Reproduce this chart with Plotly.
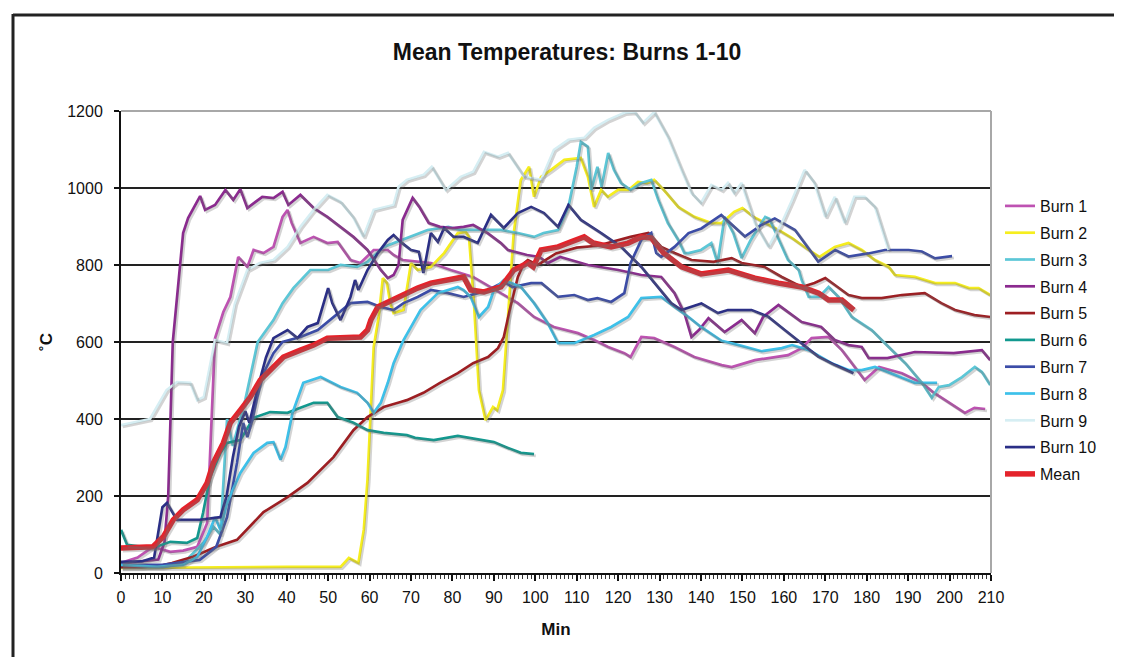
import plotly.graph_objects as go

# ---------------- data ----------------
burn1_x = [0, 4, 7.7, 10, 11.9, 15, 18.4, 20.8, 22.7, 24.7, 26.4, 28.3, 30.5, 32, 34.4, 36.8, 39, 40.2, 41.2, 43.3,
           46.5, 49.8, 52.3, 55.4, 57.8, 61, 64.4, 65.8, 68, 74.8, 79.6, 85, 87.6, 91.7, 95.8, 99.7, 104.5, 110.3,
           114.2, 117.6, 121.5, 123, 125.6, 128.7, 133.6, 138.4, 145, 147.4, 153, 161, 164.3, 166.7, 170.8, 174,
           177, 179.5, 183, 188.5, 193.3, 196, 203.7, 206, 208.6]
burn1_y = [26, 40, 68, 60, 55, 58, 68, 130, 610, 678, 717, 821, 795, 839, 831, 847, 925, 943, 909, 857,
           873, 857, 860, 813, 805, 839, 839, 826, 813, 805, 787, 769, 753, 727, 701, 665, 639, 623,
           605, 587, 571, 561, 613, 610, 587, 561, 540, 535, 553, 566, 584, 610, 613, 579,
           535, 501, 535, 519, 494, 470, 416, 429, 426]

burn2_x = [0, 10, 20, 30, 40, 53, 55, 57.3, 58.6, 59.5, 60.3, 61, 62.2, 63.2, 64.2, 65, 65.8, 68.2, 70, 71.6,
           74.8, 78, 81.3, 83.2, 84, 85.2, 86.4, 88, 89.8, 90.8, 92.2, 93.4, 94.8, 96.5, 98.5, 99.7, 101.4,
           103.8, 107, 111, 112.7, 114.2, 115.9, 117.5, 120, 122.5, 124.8, 127, 128.7, 131, 134.5, 138.4,
           142.5, 145, 148, 150, 152.7, 158.7, 162, 166, 168.6, 172.3, 175.6, 178.8, 182, 185.3, 186.8,
           191.6, 196.5, 201.3, 204.7, 207, 209.8]
burn2_y = [13, 14, 15, 16, 16, 16, 39, 26, 112, 242, 416, 587, 665, 766, 753, 701, 675, 683, 805, 787,
           795, 831, 883, 886, 873, 701, 475, 397, 431, 423, 475, 665, 883, 1021, 1055, 977, 1029,
           1047, 1073, 1078, 1029, 951, 995, 977, 995, 995, 1016, 1013, 1021, 995, 951, 925,
           909, 909, 938, 948, 925, 891, 870, 839, 821, 847, 857, 839, 813, 795, 774,
           769, 753, 753, 740, 740, 722]

burn3_x = [0, 10, 15, 20, 22.3, 24, 25.6, 27, 30, 33, 36.8, 39, 41.6, 45.7, 50, 53, 57, 59.5, 63.4, 65.8,
           70, 74, 79, 82, 86, 91.7, 95.8, 99.7, 102, 105.5, 108, 110, 111, 112.7, 113.5, 115, 116,
           117.6, 119, 120.7, 123, 125.6, 128, 129.7, 132, 134.5, 136, 137, 140, 142.5, 144, 145.7,
           147.8, 149.8, 152, 155.5, 156.5, 161, 163.6, 164.3, 166, 168.5, 170.8, 173.2, 176.4, 181.2,
           185.3, 189.3, 193.3, 195.7, 197.4, 199.9, 203, 206.1, 207.8, 209.8]
burn3_y = [15, 15, 25, 80, 120, 100, 400, 330, 450, 600, 657, 701, 740, 787, 787, 800, 795, 808, 847, 857,
           873, 891, 899, 891, 891, 891, 883, 873, 883, 891, 951, 1055, 1120, 1107, 995, 1055, 1003,
           1091, 1047, 1013, 995, 1013, 1021, 969, 909, 865, 831, 831, 839, 857, 805, 925,
           883, 818, 865, 925, 920, 813, 787, 761, 717, 717, 743, 717, 665, 631,
           587, 545, 494, 455, 483, 488, 509, 535, 522, 488]

burn4_x = [0, 5, 9, 10.5, 11.4, 12.5, 14.3, 15, 16.2, 19.1, 20.3, 22.7, 25.2, 27.1, 28.8, 30.5, 34.1, 36.8,
           39, 40.4, 43.3, 46.5, 49.8, 53, 56.1, 59.5, 62.7, 64.4, 65.8, 67, 68, 70.4, 72, 74.3, 77, 80,
           82.7, 85, 88.5, 91.7, 93.4, 98, 101, 103, 106, 112.7, 120, 125.6, 130.4, 133.6, 136, 137.7,
           139.5, 141.8, 145.7, 149.8, 153, 155, 158.7, 164.3, 169, 172.3, 175.6, 178.8, 180.5, 185,
           191.6, 201, 207.8, 209.8]
burn4_y = [25, 30, 35, 80, 200, 600, 805, 883, 922, 979, 943, 956, 995, 969, 997, 948, 977, 974,
           990, 956, 982, 948, 925, 899, 873, 839, 787, 766, 774, 800, 917, 974, 951, 909, 899, 896,
           899, 904, 883, 857, 839, 826, 821, 805, 821, 800, 787, 774, 769, 727, 675, 613,
           631, 662, 626, 657, 623, 665, 696, 652, 639, 605, 592, 587, 558, 558,
           574, 571, 579, 553]

burn5_x = [0, 5, 10, 12.3, 17.4, 23, 28, 34.4, 40.2, 45, 51.3, 56.1, 59.5, 63.4, 67.5, 69, 73, 77, 81.3, 85,
           88.6, 91, 92.4, 94, 95.8, 97.3, 98.2, 100.6, 105, 110, 115, 120, 123, 127.3, 130.4, 133.6,
           137.7, 143, 147.4, 149.8, 155.3, 159.5, 164.3, 167.4, 170, 172.3, 175.6, 178.8, 183.6,
           188.5, 194, 198, 201.3, 206, 209.8]
burn5_y = [15, 15, 20, 26, 42, 68, 86, 158, 197, 234, 301, 371, 405, 431, 444, 449, 468, 494, 519, 545,
           561, 584, 613, 691, 769, 805, 813, 800, 830, 845, 850, 865, 873, 883, 847, 831,
           813, 808, 818, 805, 795, 769, 743, 753, 766, 748, 722, 714, 714,
           722, 727, 701, 683, 670, 665]

burn6_x = [0, 1.5, 7.7, 11.9, 15.9, 18.4, 19.8, 21.5, 24, 25.6, 28.8, 32, 36, 40.2, 43.3, 46.5, 49.8, 52.3,
           56.1, 59.5, 63.4, 69, 71, 75.5, 81.3, 86, 90, 93.4, 96.5, 99.7]
burn6_y = [112, 73, 65, 81, 78, 91, 156, 249, 312, 338, 345, 403, 418, 416, 429, 442, 442, 405,
           390, 371, 364, 358, 351, 345, 356, 348, 340, 325, 312, 309]

burn7_x = [0, 10, 19, 23, 25.6, 28, 29.5, 30.5, 31.7, 32.9, 34.4, 36.8, 39, 43.3, 47.5, 51.3, 55.4, 59.5,
           62.7, 65.8, 68.2, 71.6, 74.8, 78.9, 82.7, 86.1, 88.6, 92.4, 94.5, 99, 101.5, 105.5, 109.4,
           112.7, 115, 118.3, 121.5, 123, 125.6, 128, 129.2, 130.4, 133.6, 137, 140.1, 144.9, 150.6,
           154.6, 157.8, 162.7, 168.3, 172.4, 175.6, 180.4, 184.4, 190.1, 193.3, 196.5, 200.6]
burn7_y = [21, 21, 34, 68, 145, 286, 390, 353, 397, 457, 519, 571, 600, 613, 631, 665, 701, 704,
           691, 683, 701, 717, 735, 727, 717, 727, 735, 756, 743, 753, 753, 717, 722,
           709, 714, 704, 727, 805, 865, 883, 831, 821, 847, 883, 895, 930, 874,
           904, 921, 891, 809, 839, 822, 830, 839, 839, 835, 817, 823]

burn8_x = [0, 8.7, 15, 18.4, 20.8, 22.7, 24, 25.6, 28.8, 32, 35.3, 36.8, 38.5, 39.7, 41.4, 44, 48.2, 53, 57,
           59.5, 61, 62.7, 64.4, 65.8, 68.2, 72.3, 76.5, 81.3, 82.7, 84.4, 86.4, 88.6, 90, 92.4, 96.5,
           99.7, 103, 105.5, 109.4, 114.2, 118.3, 122.4, 125.6, 130.4, 133.6, 137, 140, 145, 149.8,
           154.6, 159.5, 162, 166, 171.5, 175.6, 178.8, 182, 186.8, 191.6, 197]
burn8_y = [21, 16, 21, 42, 94, 145, 112, 182, 260, 312, 338, 340, 294, 327, 416, 494, 509, 483, 468,
           442, 416, 442, 494, 545, 605, 683, 727, 743, 735, 717, 665, 691, 735, 761, 743,
           701, 649, 597, 597, 618, 639, 665, 714, 717, 691, 665, 639, 603, 590,
           576, 584, 592, 579, 545, 527, 527, 535, 514, 494, 494]

burn9_x = [0, 7, 11, 13.5, 16.7, 18.4, 20, 22.7, 25.6, 27.5, 30.5, 33.5, 36.8, 40.2, 43.3, 46.5, 49.8, 53,
           56, 58.5, 61, 64.4, 65.8, 67, 69, 73, 75, 78.4, 82, 85, 87.6, 91, 93.4, 97.3, 101.4, 104.5,
           108, 111.8, 114.2, 117.6, 121.5, 124, 126, 128.7, 132, 135.3, 137.7, 140, 142.5, 145, 146.5,
           148, 149.8, 153, 156.3, 159.5, 162, 165, 167.4, 170, 172.3, 174.7, 177, 179.5, 182, 185.3]
burn9_y = [384, 400, 475, 496, 494, 449, 457, 605, 597, 700, 787, 805, 813, 847, 899, 943, 982, 964,
           925, 873, 943, 951, 956, 1003, 1021, 1034, 1055, 995, 1029, 1042, 1094, 1081, 1091, 1029, 1021, 1099,
           1125, 1130, 1156, 1177, 1195, 1197, 1169, 1197, 1133, 1047, 987, 961, 1008, 995, 1013,
           987, 1013, 909, 847, 909, 969, 1047, 1013, 925, 977, 909, 977, 977, 951, 839]

burn10_x = [0, 5, 8, 9.2, 10, 11.1, 13.5, 19, 24, 25.5, 27, 28.5, 30, 31, 33, 35, 36.8, 40.2, 42.6, 45,
            47.5, 50, 51, 53, 55.4, 56.5, 57.3, 59.5, 62, 64.4, 65.8, 67.5, 70, 71.9, 73, 74.8, 76.5, 78,
            80.3, 82.7, 86.1, 89.3, 92.4, 95.8, 99, 102.1, 105.5, 108, 111, 115.9, 120.7, 125.6, 129.7,
            132.8, 135.3, 140.1, 144.1, 146.5, 152.2, 156.2, 160.2, 164.3, 168.3, 172.4, 176.8]
burn10_y = [29, 30, 40, 120, 171, 182, 138, 138, 145, 200, 300, 380, 420, 390, 480, 560, 610, 631, 610, 639,
            649, 740, 701, 657, 717, 761, 735, 787, 831, 865, 878, 860, 839, 834, 779, 883, 860, 896,
            873, 873, 857, 930, 896, 935, 951, 935, 899, 956, 917, 883, 847, 795, 743,
            701, 683, 700, 675, 683, 683, 666, 631, 597, 562, 540, 519]

mean_x = [0, 7.7, 10.2, 12.6, 15, 18.4, 20.8, 22.3, 24.7, 26.4, 28.8, 31.2, 33.6, 36, 39.2, 43.3, 46.5, 49.8,
          53, 57.8, 59.5, 60.3, 62, 64.4, 68.2, 71.6, 74.8, 78.9, 82.7, 84.4, 87.6, 91.7, 94.8, 98.2, 99.5,
          101.4, 105.5, 108.6, 111.8, 114, 118.3, 122.4, 125.6, 128, 131, 135.3, 140, 146.6, 153, 158.7,
          164.3, 168.4, 170.8, 174, 176.9]
mean_y = [65, 68, 94, 138, 164, 190, 234, 286, 338, 390, 423, 457, 501, 527, 561, 579, 592, 610,
          610, 613, 631, 657, 691, 704, 722, 740, 753, 761, 769, 735, 730, 743, 787, 805, 795,
          839, 847, 860, 873, 857, 847, 857, 873, 870, 831, 795, 777, 787, 766, 753,
          743, 727, 709, 709, 683]

series_names = ["Burn 1", "Burn 2", "Burn 3", "Burn 4", "Burn 5", "Burn 6", "Burn 7", "Burn 8", "Burn 9",
                "Burn 10", "Mean"]
series_x = [burn1_x, burn2_x, burn3_x, burn4_x, burn5_x, burn6_x, burn7_x, burn8_x, burn9_x, burn10_x, mean_x]
series_y = [burn1_y, burn2_y, burn3_y, burn4_y, burn5_y, burn6_y, burn7_y, burn8_y, burn9_y, burn10_y, mean_y]

x_ticks = list(range(0, 211, 10))
y_ticks = [0, 200, 400, 600, 800, 1000, 1200]

# ---------------- styles ----------------
colors = ["#BE52B2", "#F6EE1E", "#5CC7D7", "#8B2A8F", "#9D1E22", "#12998F", "#3B4CA7", "#3DC1EA",
          "#D6EEF3", "#2A2E86", "#E4232B"]
widths = [2.7] * 10 + [5.5]

# The page body has an 8px margin: work in screen pixels and subtract it.
OFF = 8
W, H = 1122 - OFF, 657 - OFF
PL, PR, PT, PB = 121 - OFF, 991 - OFF, 111 - OFF, 573 - OFF
pw, ph = PR - PL, PB - PT
XR = [0, 210]
YR = [0, 1200]
sx = pw / (XR[1] - XR[0])
sy = ph / (YR[1] - YR[0])
shx, shy = 1.8, 1.8  # shadow offset in px

fig = go.Figure()

# soft shadows (drawn on a shifted twin axis)
for xs, ys, w in zip(series_x, series_y, widths):
    fig.add_trace(go.Scatter(x=xs, y=ys, mode="lines", xaxis="x2", yaxis="y2", showlegend=False,
                             hoverinfo="skip",
                             line=dict(color="rgba(110,110,110,0.30)", width=w)))

for name, xs, ys, c, w in zip(series_names, series_x, series_y, colors, widths):
    fig.add_trace(go.Scatter(x=xs, y=ys, mode="lines", name=name, legendgroup=name,
                             line=dict(color=c, width=w)))


def sx_paper(p):  # screen px -> paper x
    return (p - OFF - PL) / pw


def sy_paper(p):  # screen px -> paper y
    return (PB - (p - OFF)) / ph


shapes = [
    # grey frame on top / right of plot area
    dict(type="line", xref="paper", yref="paper", x0=0, x1=1, y0=1, y1=1,
         line=dict(color="#A8A8A8", width=2), layer="above"),
    dict(type="line", xref="paper", yref="paper", x0=1, x1=1, y0=0, y1=1,
         line=dict(color="#A8A8A8", width=2), layer="above"),
    # outer black frame (top and left)
    dict(type="line", xref="paper", yref="paper", x0=sx_paper(13), x1=sx_paper(1130),
         y0=sy_paper(15), y1=sy_paper(15), line=dict(color="#222222", width=3)),
    dict(type="line", xref="paper", yref="paper", x0=sx_paper(13), x1=sx_paper(13),
         y0=sy_paper(14), y1=sy_paper(670), line=dict(color="#222222", width=3)),
]

font_family = "Liberation Sans, Arial, sans-serif"

fig.update_layout(
    width=W, height=H,
    margin=dict(l=PL, r=W - PR, t=PT, b=H - PB, autoexpand=False),
    paper_bgcolor="white", plot_bgcolor="white",
    font=dict(family=font_family, color="#111111", size=16),
    title=dict(text="<b>Mean Temperatures: Burns 1-10</b>", x=(567 - OFF) / W, xanchor="center",
               y=1 - (52 - OFF) / H, yanchor="middle", font=dict(size=23, color="#111111")),
    xaxis=dict(range=XR, tickvals=x_ticks, ticks="outside", ticklen=6, tickwidth=1.5, tickcolor="#111",
               showline=True, linecolor="#111", linewidth=2, showgrid=False, zeroline=False,
               minor=dict(dtick=1, ticks="outside", ticklen=4, tickcolor="#333", tickwidth=1),
               tickfont=dict(size=16), ticklabelstandoff=3,
               title=dict(text="<b>Min</b>", font=dict(size=17), standoff=18)),
    yaxis=dict(range=YR, tickvals=y_ticks, ticks="outside", ticklen=5, tickwidth=1.5, tickcolor="#111",
               showline=True, linecolor="#111", linewidth=2, showgrid=True, gridcolor="#222",
               gridwidth=1.5, zeroline=False, tickfont=dict(size=16), ticklabelstandoff=8,
               title=dict(text="<b>˚C</b>", font=dict(size=17), standoff=10)),
    xaxis2=dict(range=[XR[0] - shx / sx, XR[1] - shx / sx], overlaying="x", visible=False),
    yaxis2=dict(range=[YR[0] + shy / sy, YR[1] + shy / sy], overlaying="y", visible=False),
    legend=dict(x=sx_paper(1000), xanchor="left", y=sy_paper(189), yanchor="top",
                font=dict(size=16), bgcolor="rgba(0,0,0,0)", tracegroupgap=3, itemwidth=30),
    shapes=shapes,
    showlegend=True,
)

fig.write_html("out.html")
